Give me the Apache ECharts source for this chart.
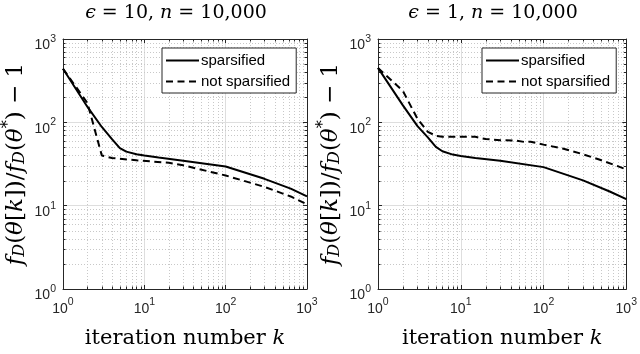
<!DOCTYPE html>
<html>
<head>
<meta charset="utf-8">
<script src="https://cdn.jsdelivr.net/npm/echarts@6/dist/echarts.min.js"></script>
<style>
  html, body { margin: 0; background: #fff; }
  #main { width: 640px; height: 354px; }
</style>
</head>
<body>
<div id="main"></div>
<script>
// values (iteration k -> objective gap)
var kSparseEps10 = [1, 2, 3, 4, 5, 6, 8, 10, 15, 30, 100, 300, 630, 1000];
var ySparseEps10 = [440, 153, 88, 63, 49, 44.5, 41.5, 40, 37.8, 34.7, 29.5, 21, 16, 12.9];
var kDenseEps10 = [1, 2, 3, 4, 8, 20, 30, 100, 300, 630, 1000];
var yDenseEps10 = [440, 170, 40, 37.3, 35, 32.7, 30.5, 23, 16.8, 12.9, 10.4];

var kSparseEps1 = [1, 2, 3, 4, 5, 6, 8, 10, 15, 30, 100, 300, 630, 1000];
var ySparseEps1 = [450, 160, 90, 66, 50.7, 45, 41, 39.5, 37.3, 34.7, 29, 20.1, 14.8, 12];
var kDenseEps1 = [1, 2, 3, 4, 5, 6, 10, 15, 20, 30, 45, 60, 70, 100, 170, 300, 480, 1000];
var yDenseEps1 = [450, 238, 110, 77, 69, 67, 67, 67, 63, 61, 60.5, 58, 58.5, 54, 48.5, 41.4, 35.6, 27.3];

var minorTicks = [2, 3, 4, 5, 6, 7, 8, 9, 20, 30, 40, 50, 60, 70, 80, 90, 200, 300, 400, 500, 600, 700, 800, 900];
var axisMin = 1, axisMax = 1000;

var titles = ['{i|ϵ}{n| = 10, }{i|n}{n| = 10,000}', '{i|ϵ}{n| = 1, }{i|n}{n| = 10,000}'];
var legendNames = ['sparsified', 'not sparsified'];

var axisColor = '#262626';
var serif = 'DejaVu Serif, Liberation Serif, serif';
var sans = 'Liberation Sans, Arial, sans-serif';

function zip(ks, ys) {
  return ks.map(function (k, i) { return [k, ys[i]]; });
}

function powLabel(v) {
  return '{b|10}{s|' + Math.round(Math.log10(v)) + '}';
}

var labelRich = {
  b: { fontSize: 14, lineHeight: 19, verticalAlign: 'bottom', color: axisColor, fontFamily: sans },
  s: { fontSize: 10.5, lineHeight: 10, verticalAlign: 'top', color: axisColor, fontFamily: sans }
};

function mathStyle(size) {
  var small = Math.round(size * 0.68);
  return {
    i: { fontStyle: 'italic', fontSize: size, lineHeight: size + 4, verticalAlign: 'bottom', fontFamily: serif, color: '#000' },
    n: { fontSize: size, lineHeight: size + 4, verticalAlign: 'bottom', fontFamily: serif, color: '#000' },
    sub: { fontStyle: 'italic', fontSize: small, lineHeight: small + 1, verticalAlign: 'bottom', fontFamily: serif, color: '#000' },
    sup: { fontSize: small, lineHeight: small, verticalAlign: 'top', fontFamily: serif, color: '#000' }
  };
}

var yName = '{i|f}{sub|D}{n|(}{i|θ}{n|[}{i|k}{n|])/}{i|f}{sub|D}{n|(}{i|θ}{sup|*}{n|) − 1}';
var xName = '{n|iteration number }{i|k}';

function minorGridItem(params, api) {
  var v = api.value(0);
  var b = api.coord([v, axisMin]), t = api.coord([v, axisMax]);
  var l = api.coord([axisMin, v]), r = api.coord([axisMax, v]);
  var x = Math.round(b[0]) + 0.5, y = Math.round(l[1]) + 0.5;
  var dot = { stroke: '#c8c8c8', lineWidth: 1, lineDash: [1, 2] };
  var tick = { stroke: axisColor, lineWidth: 1 };
  return {
    type: 'group',
    children: [
      { type: 'line', shape: { x1: x, y1: b[1], x2: x, y2: t[1] }, style: dot },
      { type: 'line', shape: { x1: l[0], y1: y, x2: r[0], y2: y }, style: dot },
      { type: 'line', shape: { x1: x, y1: b[1], x2: x, y2: b[1] - 2.5 }, style: tick },
      { type: 'line', shape: { x1: x, y1: t[1], x2: x, y2: t[1] + 2.5 }, style: tick },
      { type: 'line', shape: { x1: l[0], y1: y, x2: l[0] + 2.5, y2: y }, style: tick },
      { type: 'line', shape: { x1: r[0], y1: y, x2: r[0] - 2.5, y2: y }, style: tick }
    ]
  };
}

var grids = [
  { left: 58, top: 39, width: 249, height: 261 },
  { left: 378, top: 39, width: 249, height: 261 }
];

var xAxes = [], yAxes = [], series = [];

grids.forEach(function (g, gi) {
  ['bottom', 'top'].forEach(function (pos) {
    var main = pos === 'bottom';
    xAxes.push({
      type: 'log', logBase: 10, gridIndex: gi, position: pos,
      min: axisMin, max: axisMax,
      name: main ? xName : '', nameLocation: 'middle', nameGap: 35,
      nameTextStyle: { rich: mathStyle(21) },
      axisLine: { lineStyle: { color: axisColor, width: 1 } },
      axisTick: { show: true, inside: true, length: 4, lineStyle: { color: axisColor } },
      axisLabel: { show: main, margin: 8, formatter: powLabel, rich: labelRich, showMinLabel: true, showMaxLabel: true },
      splitLine: { show: main, lineStyle: { color: '#dedede', width: 1 } }
    });
  });
  ['left', 'right'].forEach(function (pos) {
    var main = pos === 'left';
    yAxes.push({
      type: 'log', logBase: 10, gridIndex: gi, position: pos,
      min: axisMin, max: axisMax,
      name: main ? yName : '', nameLocation: 'middle', nameGap: 35, nameRotate: 90,
      nameTextStyle: { rich: mathStyle(23) },
      axisLine: { lineStyle: { color: axisColor, width: 1 } },
      axisTick: { show: true, inside: true, length: 4, lineStyle: { color: axisColor } },
      axisLabel: { show: main, margin: 7, padding: [8, 0, 0, 0], formatter: powLabel, rich: labelRich, showMinLabel: true, showMaxLabel: true },
      splitLine: { show: main, lineStyle: { color: '#dedede', width: 1 } }
    });
  });

  series.push({
    type: 'custom', xAxisIndex: gi * 2, yAxisIndex: gi * 2, silent: true, z: 1,
    renderItem: minorGridItem,
    data: minorTicks.map(function (v) { return [v, v]; })
  });
});

var panels = [
  [zip(kSparseEps10, ySparseEps10), zip(kDenseEps10, yDenseEps10)],
  [zip(kSparseEps1, ySparseEps1), zip(kDenseEps1, yDenseEps1)]
];

panels.forEach(function (p, gi) {
  series.push({
    name: legendNames[0], type: 'line', xAxisIndex: gi * 2, yAxisIndex: gi * 2,
    data: p[0], symbol: 'none', z: 5,
    lineStyle: { color: '#000', width: 2 }, itemStyle: { color: '#000' }
  });
  series.push({
    name: legendNames[1], type: 'line', xAxisIndex: gi * 2, yAxisIndex: gi * 2,
    data: p[1], symbol: 'none', z: 5,
    lineStyle: { color: '#000', width: 2, type: [7, 4.5] }, itemStyle: { color: '#000' }
  });
});

function legendAt(left) {
  return {
    left: left, top: 48, orient: 'vertical', data: legendNames,
    itemWidth: 33, itemHeight: 14, itemGap: 6, padding: [5, 6, 4, 3],
    backgroundColor: '#fff', borderColor: axisColor, borderWidth: 1,
    selectedMode: false,
    itemStyle: { opacity: 0 },
    textStyle: { fontFamily: sans, fontSize: 15, color: '#000', padding: [0, 0, 0, -3] }
  };
}

var titleStyle = { fontFamily: serif, fontWeight: 'normal', fontSize: 19, color: '#000', rich: mathStyle(19) };

var chart = echarts.init(document.getElementById('main'), null, { renderer: 'canvas' });
chart.setOption({
  animation: false,
  backgroundColor: '#fff',
  title: [
    { text: titles[0], left: 176, top: 0, padding: 0, textAlign: 'center', textStyle: titleStyle },
    { text: titles[1], left: 493, top: 0, padding: 0, textAlign: 'center', textStyle: titleStyle }
  ],
  legend: [legendAt(162), legendAt(482)],
  grid: grids,
  xAxis: xAxes,
  yAxis: yAxes,
  series: series
});
</script>
</body>
</html>
